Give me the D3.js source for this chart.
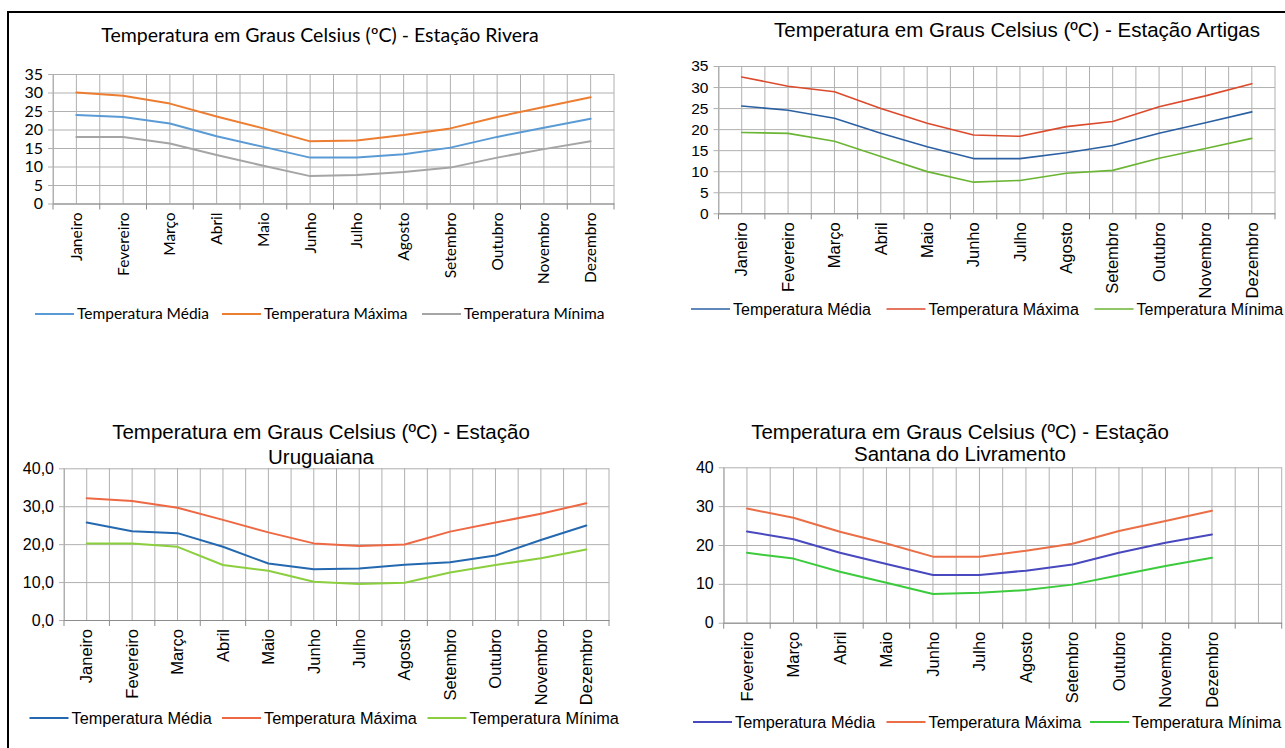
<!DOCTYPE html>
<html>
<head>
<meta charset="utf-8">
<script src="https://cdn.jsdelivr.net/npm/d3@7"></script>
<style>
    body { margin: 0; background: #fff; }
    svg { display: block; }
</style>
</head>
<body>
<svg id="chart"></svg>
<script>
(function () {

    var months = ["Janeiro", "Fevereiro", "Março", "Abril", "Maio", "Junho",
        "Julho", "Agosto", "Setembro", "Outubro", "Novembro", "Dezembro"];
    // the Livramento sheet starts in February and keeps one empty slot at the end
    var monthsLivramento = ["Fevereiro", "Março", "Abril", "Maio", "Junho", "Julho",
        "Agosto", "Setembro", "Outubro", "Novembro", "Dezembro", ""];
    var seriesNames = ["Temperatura Média", "Temperatura Máxima", "Temperatura Mínima"];

    var riveraMedia  = [23.9, 23.4, 21.6, 18.2, 15.3, 12.4, 12.4, 13.3, 15.1, 18.0, 20.5, 22.9];
    var riveraMaxima = [30.0, 29.1, 27.0, 23.5, 20.3, 16.8, 17.0, 18.5, 20.3, 23.4, 26.1, 28.7];
    var riveraMinima = [18.0, 18.0, 16.2, 13.1, 10.2, 7.4, 7.7, 8.5, 9.7, 12.4, 14.7, 16.8];

    var artigasMedia  = [25.5, 24.5, 22.6, 19.0, 15.8, 13.0, 13.0, 14.4, 16.1, 19.0, 21.5, 24.1];
    var artigasMaxima = [32.4, 30.2, 28.9, 24.9, 21.4, 18.6, 18.3, 20.6, 21.8, 25.3, 27.9, 30.8];
    var artigasMinima = [19.2, 19.0, 17.1, 13.5, 9.9, 7.4, 7.8, 9.5, 10.2, 13.1, 15.4, 17.8];

    var uruguaianaMedia  = [25.7, 23.4, 22.9, 19.3, 14.9, 13.4, 13.6, 14.6, 15.2, 17.0, 21.1, 24.9];
    var uruguaianaMaxima = [32.1, 31.4, 29.6, 26.4, 23.1, 20.2, 19.5, 19.9, 23.3, 25.7, 28.0, 30.8];
    var uruguaianaMinima = [20.2, 20.2, 19.3, 14.5, 13.0, 10.1, 9.5, 9.8, 12.5, 14.5, 16.3, 18.6];

    var livramentoMedia  = [23.5, 21.5, 18.0, 15.1, 12.3, 12.3, 13.4, 15.0, 18.0, 20.6, 22.7];
    var livramentoMaxima = [29.4, 27.0, 23.4, 20.4, 17.0, 17.0, 18.5, 20.3, 23.6, 26.2, 28.8];
    var livramentoMinima = [18.0, 16.5, 13.1, 10.3, 7.4, 7.7, 8.4, 9.8, 12.2, 14.6, 16.7];

    var calibriLike = "Lato, 'Open Sans', sans-serif";
    var arialLike = "'Liberation Sans', Arial, sans-serif";
    var gridColor = "#b0b0b0";
    var axisColor = "#8c8c8c";

    var ptBR = d3.formatLocale({ decimal: ",", thousands: ".", grouping: [3], currency: ["R$", ""] });

    var svg = d3.select("#chart")
        .attr("width", 1285)
        .attr("height", 748);

    svg.append("rect")
        .attr("width", 1285)
        .attr("height", 748)
        .attr("fill", "#fff");

    var panels = [
        {
            categories: months,
            series: [riveraMedia, riveraMaxima, riveraMinima],
            colors: ["#5b9bd5", "#ed7d31", "#a5a5a5"],
            left: 53, right: 614, top: 74, bottom: 203.5,
            yMax: 35, yStep: 5, format: d3.format("d"),
            font: calibriLike,
            title: ["Temperatura em Graus Celsius (ºC) - Estação Rivera"],
            titleX: 320, titleY: [35], titleSize: 19.5,
            tickSize: 16, monthSize: 15.5, legendSize: 15.5,
            legendY: 314, legendX: [35, 222, 422],
            lineWidth: 2
        },
        {
            categories: months,
            series: [artigasMedia, artigasMaxima, artigasMinima],
            colors: ["#2b60a3", "#dc4a2c", "#6ab533"],
            left: 718.5, right: 1275, top: 66, bottom: 213.3,
            yMax: 35, yStep: 5, format: d3.format("d"),
            font: arialLike,
            title: ["Temperatura em Graus Celsius (ºC) - Estação Artigas"],
            titleX: 1017, titleY: [30], titleSize: 20.5,
            tickSize: 15.5, monthSize: 16.5, legendSize: 16,
            legendY: 309, legendX: [691, 886.5, 1094.5],
            lineWidth: 1.6
        },
        {
            categories: months,
            series: [uruguaianaMedia, uruguaianaMaxima, uruguaianaMinima],
            colors: ["#2468b0", "#ee6844", "#8bcf3f"],
            left: 64, right: 609, top: 468.3, bottom: 620,
            yMax: 40, yStep: 10, format: ptBR.format(".1f"),
            font: arialLike,
            title: ["Temperatura em Graus Celsius (ºC) - Estação", "Uruguaiana"],
            titleX: 321, titleY: [431.5, 456.5], titleSize: 20.5,
            tickSize: 16, monthSize: 16.5, legendSize: 16.3,
            legendY: 718, legendX: [29.5, 222, 427.5],
            lineWidth: 2
        },
        {
            categories: monthsLivramento,
            series: [livramentoMedia, livramentoMaxima, livramentoMinima],
            colors: ["#4848bf", "#ea6e46", "#3ccb3c"],
            left: 723.7, right: 1281.7, top: 467.3, bottom: 622.7,
            yMax: 40, yStep: 10, format: d3.format("d"),
            font: arialLike,
            title: ["Temperatura em Graus Celsius (ºC) - Estação", "Santana do Livramento"],
            titleX: 960, titleY: [431.5, 453.5], titleSize: 20.5,
            tickSize: 16, monthSize: 16.5, legendSize: 16.3,
            legendY: 722, legendX: [693, 886.5, 1090],
            lineWidth: 2
        }
    ];

    panels.forEach(drawPanel);

    // frame of the composed figure (top and left edges only, the rest is cropped)
    svg.append("path")
        .attr("d", "M8,748V12H1285")
        .attr("fill", "none")
        .attr("stroke", "#000")
        .attr("stroke-width", 2);

    function drawPanel(p) {
        var g = svg.append("g")
            .style("font-family", p.font);

        var xScale = d3.scaleBand()
            .domain(p.categories)
            .range([p.left, p.right]);
        var yScale = d3.scaleLinear()
            .domain([0, p.yMax])
            .range([p.bottom, p.top]);
        var half = xScale.bandwidth() / 2;

        // vertical gridlines: every category edge and centre
        var vLines = [];
        p.categories.forEach(function (c) {
            vLines.push(xScale(c));
            vLines.push(xScale(c) + half);
        });
        vLines.push(p.right);
        g.selectAll("line.vgrid")
            .data(vLines)
            .enter()
            .append("line")
            .attr("class", "vgrid")
            .attr("x1", d => d)
            .attr("x2", d => d)
            .attr("y1", p.top)
            .attr("y2", p.bottom)
            .attr("stroke", gridColor)
            .attr("stroke-width", 1);

        // y axis with horizontal gridlines
        var yAxis = d3.axisLeft(yScale)
            .tickValues(d3.range(0, p.yMax + 0.001, p.yStep))
            .tickFormat(p.format)
            .tickSizeInner(-(p.right - p.left))
            .tickSizeOuter(0)
            .tickPadding(0);
        var yG = g.append("g")
            .attr("transform", "translate(" + p.left + ",0)")
            .call(yAxis);
        yG.select(".domain")
            .attr("stroke", gridColor);
        yG.selectAll(".tick line")
            .attr("x1", -5)
            .attr("stroke", gridColor);
        yG.selectAll(".tick text")
            .attr("x", -10)
            .attr("fill", "#000")
            .style("font-family", p.font)
            .style("font-size", p.tickSize + "px");

        // x axis: month names rotated, tick marks on category edges
        var xAxis = d3.axisBottom(xScale)
            .tickSize(0)
            .tickPadding(0);
        var xG = g.append("g")
            .attr("transform", "translate(0," + p.bottom + ")")
            .call(xAxis);
        xG.select(".domain")
            .attr("stroke", axisColor);
        xG.selectAll(".tick text")
            .attr("transform", "rotate(-90)")
            .attr("text-anchor", "end")
            .attr("x", -9)
            .attr("y", 0)
            .attr("dy", "0.35em")
            .attr("fill", "#000")
            .style("font-family", p.font)
            .style("font-size", p.monthSize + "px");

        var edges = p.categories.map(c => xScale(c)).concat([p.right]);
        g.selectAll("line.xtick")
            .data(edges)
            .enter()
            .append("line")
            .attr("class", "xtick")
            .attr("x1", d => d)
            .attr("x2", d => d)
            .attr("y1", p.bottom)
            .attr("y2", p.bottom + 6)
            .attr("stroke", axisColor);

        // series lines
        var line = d3.line()
            .x((d, i) => xScale(p.categories[i]) + half)
            .y(d => yScale(d));
        g.selectAll("path.serie")
            .data(p.series)
            .enter()
            .append("path")
            .attr("class", "serie")
            .attr("d", d => line(d))
            .attr("fill", "none")
            .attr("stroke", (d, i) => p.colors[i])
            .attr("stroke-width", p.lineWidth)
            .attr("stroke-linejoin", "round")
            .attr("stroke-linecap", "round");

        // title
        g.selectAll("text.title")
            .data(p.title)
            .enter()
            .append("text")
            .attr("class", "title")
            .attr("x", p.titleX)
            .attr("y", (d, i) => p.titleY[i])
            .attr("dy", "0.35em")
            .attr("text-anchor", "middle")
            .style("font-size", p.titleSize + "px")
            .text(d => d);

        // legend
        var legend = g.selectAll("g.legendEntry")
            .data(seriesNames)
            .enter()
            .append("g")
            .attr("class", "legendEntry")
            .attr("transform", (d, i) => "translate(" + p.legendX[i] + "," + p.legendY + ")");
        legend.append("line")
            .attr("x1", 0)
            .attr("x2", 39)
            .attr("stroke", (d, i) => p.colors[i])
            .attr("stroke-width", p.lineWidth);
        legend.append("text")
            .attr("x", 42)
            .attr("dy", "0.35em")
            .style("font-size", p.legendSize + "px")
            .text(d => d);
    }

})();
</script>
</body>
</html>
